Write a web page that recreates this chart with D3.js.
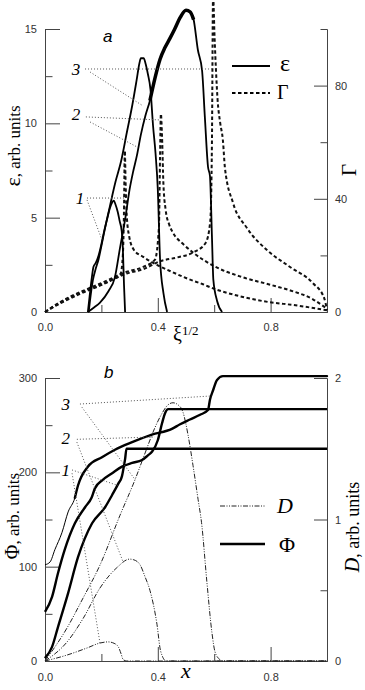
<!DOCTYPE html>
<html>
<head>
<meta charset="utf-8">
<script src="https://cdn.jsdelivr.net/npm/d3@7"></script>
<style>
  body { margin: 0; background: #fff; }
  svg { display: block; }
  .serif { font-family: "Liberation Serif", "Times New Roman", serif; }
</style>
</head>
<body>
<div id="chart"></div>
<script>
// ---------- data, panel a (eps and Gamma vs xi^1/2) ----------
var eps1 = [[0.152,0],[0.158,0.8],[0.165,1.7],[0.172,2.4],[0.18,2.6],[0.19,3.0],[0.2,3.6],[0.21,4.3],[0.22,4.9],
  [0.23,5.5],[0.238,5.8],[0.244,5.9],[0.25,5.7],[0.258,5.3],[0.265,4.8],[0.272,4.3],[0.276,3.4],[0.28,1.5],[0.284,0]];
var eps2 = [[0.155,0],[0.162,0.9],[0.17,1.7],[0.18,2.3],[0.19,2.8],[0.2,3.5],[0.215,4.6],[0.23,5.6],[0.25,6.9],
  [0.27,8.0],[0.29,9.5],[0.31,11.0],[0.325,12.3],[0.335,13.2],[0.34,13.45],[0.35,13.45],[0.356,13.2],[0.365,12.6],
  [0.374,11.8],[0.383,9.9],[0.392,8.4],[0.4,6.5],[0.408,2.8],[0.42,1.0],[0.433,0]];
var eps3 = [[0.152,0],[0.175,0.25],[0.195,0.5],[0.225,1.1],[0.248,1.85],[0.266,3.4],[0.284,4.9],[0.3,6.5],[0.312,7.4],
  [0.326,8.3],[0.34,9.4],[0.356,10.4],[0.372,11.2],[0.39,12.4],[0.408,13.4],[0.425,14.0],[0.443,14.5],[0.46,15.0],
  [0.479,15.6],[0.5,16.0],[0.515,15.9],[0.527,15.5],[0.542,13.9],[0.557,12.8],[0.567,10.3],[0.578,7.7],[0.585,7.2],
  [0.592,4.0],[0.597,1.7],[0.61,0.6],[0.628,0]];

var gam1 = [[0,0],[0.053,3.2],[0.124,6.7],[0.195,9.5],[0.24,11.5],[0.268,13.5],[0.276,20],[0.28,35],[0.283,57],
  [0.286,45],[0.29,34],[0.298,27],[0.315,22],[0.348,19.5],[0.4,16.5],[0.443,14.5],[0.5,12.0],[0.56,9.8],[0.6,8.2],
  [0.69,5.6],[0.77,3.9],[0.9,2.2],[1.0,0.6]];
var gam2 = [[0,0],[0.053,3.5],[0.124,7.0],[0.195,10.0],[0.29,14.2],[0.35,16.0],[0.39,18.5],[0.404,30],[0.408,55],
  [0.411,70],[0.415,62],[0.42,45],[0.428,36],[0.44,31],[0.454,28],[0.49,24],[0.525,21],[0.6,16.2],[0.7,12.3],
  [0.8,9.6],[0.87,7.6],[0.95,4.5],[0.995,1.5]];
var gam3 = [[0,0],[0.053,3.0],[0.124,6.4],[0.195,9.3],[0.29,13.6],[0.35,15.2],[0.41,18.0],[0.47,19.3],[0.525,21],
  [0.57,24.5],[0.586,32],[0.592,60],[0.596,112],[0.601,98],[0.606,86],[0.612,75],[0.621,67],[0.631,60.5],[0.638,51],
  [0.667,38.5],[0.716,29.7],[0.787,21.9],[0.869,15.9],[0.95,10.2],[0.99,4.9],[1.0,0.7]];

// ---------- data, panel b (Phi and D vs x) ----------
var phi1 = [[0,3],[0.025,15],[0.046,36],[0.082,72],[0.117,110],[0.167,146],[0.213,163],[0.238,176],[0.26,188],
  [0.273,196],[0.28,207],[0.284,214],[0.289,225],[1.0,225]];
var phi2 = [[0,52],[0.025,68],[0.046,93],[0.07,118],[0.106,146],[0.142,163],[0.165,173],[0.177,183],[0.205,192],
  [0.238,199],[0.273,206],[0.309,210],[0.344,213],[0.365,218],[0.38,222],[0.4,234],[0.415,252],[0.426,263],
  [0.437,267],[0.443,267],[1.0,267]];
var phi3 = [[0,102],[0.018,105],[0.035,118],[0.06,136],[0.082,158],[0.106,173],[0.117,186],[0.152,206],[0.202,216],
  [0.248,224],[0.309,232],[0.379,240],[0.45,246],[0.479,251],[0.514,256],[0.55,261],[0.578,266],[0.585,277],
  [0.596,287],[0.61,298],[0.631,302],[1.0,302]];

var dd1 = [[0,0],[0.078,0.042],[0.149,0.092],[0.195,0.127],[0.224,0.135],[0.245,0.125],[0.26,0.1],[0.27,0.05],
  [0.277,0.01],[0.29,0],[1.0,0]];
var dd2 = [[0,0],[0.078,0.134],[0.135,0.3],[0.195,0.516],[0.255,0.66],[0.3,0.72],[0.315,0.715],[0.337,0.68],
  [0.355,0.594],[0.372,0.5],[0.397,0.26],[0.41,0.07],[0.43,0],[1.0,0]];
var dd3 = [[0,0],[0.078,0.233],[0.135,0.445],[0.195,0.678],[0.266,1.03],[0.319,1.28],[0.355,1.47],[0.39,1.65],
  [0.415,1.75],[0.436,1.81],[0.454,1.825],[0.472,1.81],[0.489,1.76],[0.507,1.6],[0.525,1.38],[0.543,1.14],
  [0.555,0.98],[0.574,0.56],[0.592,0.2],[0.603,0.064],[0.62,0.01],[0.631,0],[1.0,0]];

// ticks
var xMajor = [0, 0.4, 0.8], xMinor = [0.2, 0.6, 1.0];
var epsMajor = [0, 5, 10, 15], epsMinor = [2.5, 7.5, 12.5];
var gamMajor = [0, 40, 80], gamMinor = [20, 60, 100];
var phiMajor = [0, 100, 200, 300], phiMinor = [50, 150, 250];
var dMajor = [0, 1, 2], dMinor = [0.5, 1.5];

// curve labels 1,2,3 with leader lines, in data units of the left axis
var labelsA = [
  {t: "3", at: [0.11, 12.9], lines: [[[0.142,12.88],[0.596,12.88]], [[0.16,12.72],[0.348,10.92]]]},
  {t: "2", at: [0.11, 10.5], lines: [[[0.145,10.34],[0.408,10.18]], [[0.16,10.07],[0.326,8.75]]]},
  {t: "1", at: [0.124, 6.04], lines: [[[0.149,6.04],[0.284,6.04]], [[0.149,5.94],[0.202,3.82]]]}
];
var labelsB = [
  {t: "3", at: [0.074, 272], lines: [[[0.124,272.4],[0.592,281]], [[0.131,269],[0.32,192]]]},
  {t: "2", at: [0.074, 236], lines: [[[0.113,235],[0.39,237.5]], [[0.113,232],[0.277,105]]]},
  {t: "1", at: [0.074, 202], lines: [[[0.096,202.5],[0.259,186]], [[0.096,199],[0.195,19]]]}
];

var svg = d3.select("#chart").append("svg")
  .attr("width", 365)
  .attr("height", 690);

var x = d3.scaleLinear().domain([0, 1]).range([45, 327]);
var yEps = d3.scaleLinear().domain([0, 15]).range([312, 29]);
var yGam = d3.scaleLinear().domain([0, 100]).range([312, 29]);
var yPhi = d3.scaleLinear().domain([0, 300]).range([661, 378]);
var yD = d3.scaleLinear().domain([0, 2]).range([661, 378]);

function fmtX(d) { return d3.format(".1f")(d); }

// two calls per axis: long labelled ticks and short blank ones
function drawAxis(fn, scale, tx, ty, major, minor, bigLen, fmt, pad) {
  var g1 = svg.append("g").attr("transform", "translate(" + tx + "," + ty + ")")
    .call(fn(scale).tickValues(minor).tickSize(-bigLen / 2).tickSizeOuter(0).tickFormat(""));
  var g2 = svg.append("g").attr("transform", "translate(" + tx + "," + ty + ")")
    .call(fn(scale).tickValues(major).tickSize(-bigLen).tickSizeOuter(0).tickFormat(fmt).tickPadding(pad));
  [g1, g2].forEach(function(g) {
    g.selectAll("path, line").attr("stroke", "#444").attr("stroke-width", 1);
    g.selectAll("text")
      .attr("font-family", "'Liberation Sans', Arial, sans-serif")
      .attr("font-size", 11)
      .attr("fill", "#333");
  });
}

drawAxis(d3.axisBottom, x, 0, 312, xMajor, xMinor, 14, fmtX, 11);
drawAxis(d3.axisLeft, yEps, 45, 0, epsMajor, epsMinor, 15, d3.format("d"), 8);
drawAxis(d3.axisRight, yGam, 327, 0, gamMajor, gamMinor, 13, d3.format("d"), 8);

drawAxis(d3.axisBottom, x, 0, 661, xMajor, xMinor, 14, fmtX, 12);
drawAxis(d3.axisLeft, yPhi, 45, 0, phiMajor, phiMinor, 15, d3.format("d"), 8);
drawAxis(d3.axisRight, yD, 327, 0, dMajor, dMinor, 13, d3.format("d"), 8);

function lineOf(ys) {
  return d3.line()
    .x(function(d) { return x(d[0]); })
    .y(function(d) { return ys(d[1]); })
    .curve(d3.curveMonotoneX);
}

// panel a
var gA = svg.append("g");
[gam1, gam2, gam3].forEach(function(s) {
  gA.append("path").datum(s).attr("d", lineOf(yGam))
    .attr("fill", "none").attr("stroke", "#111").attr("stroke-width", 2)
    .attr("stroke-dasharray", "3.5,2.5");
});
[eps1, eps2, eps3].forEach(function(s) {
  gA.append("path").datum(s).attr("d", lineOf(yEps))
    .attr("fill", "none").attr("stroke", "#000").attr("stroke-width", 1.8);
});
// the noisy top of curve 3 reads as a heavier stroke
gA.append("path")
  .datum(eps3.filter(function(d) { return d[0] >= 0.37 && d[0] <= 0.53; }))
  .attr("d", lineOf(yEps))
  .attr("fill", "none").attr("stroke", "#000").attr("stroke-width", 3.5);

// panel b
var gB = svg.append("g");
[dd1, dd2, dd3].forEach(function(s) {
  gB.append("path").datum(s).attr("d", lineOf(yD))
    .attr("fill", "none").attr("stroke", "#222").attr("stroke-width", 1)
    .attr("stroke-dasharray", "5,1.5,1,1.5,1,1.5");
});
[phi1, phi2].forEach(function(s) {
  gB.append("path").datum(s).attr("d", lineOf(yPhi))
    .attr("fill", "none").attr("stroke", "#000").attr("stroke-width", 2.4);
});
// curve 3 starts as a thin line and turns heavy
gB.append("path").datum(phi3.filter(function(d) { return d[0] <= 0.152; }))
  .attr("d", lineOf(yPhi)).attr("fill", "none").attr("stroke", "#000").attr("stroke-width", 1);
gB.append("path").datum(phi3.filter(function(d) { return d[0] >= 0.106; }))
  .attr("d", lineOf(yPhi)).attr("fill", "none").attr("stroke", "#000").attr("stroke-width", 2.4)
  .attr("stroke-linecap", "round");

// leader lines + numbers
function drawLabels(list, ys) {
  list.forEach(function(l) {
    l.lines.forEach(function(seg) {
      svg.append("line")
        .attr("x1", x(seg[0][0])).attr("y1", ys(seg[0][1]))
        .attr("x2", x(seg[1][0])).attr("y2", ys(seg[1][1]))
        .attr("stroke", "#555").attr("stroke-width", 1).attr("stroke-dasharray", "1,2");
    });
    svg.append("text").attr("class", "serif")
      .attr("x", x(l.at[0])).attr("y", ys(l.at[1])).attr("dy", "0.35em")
      .attr("text-anchor", "middle").attr("font-style", "italic").attr("font-size", 17)
      .text(l.t);
  });
}
drawLabels(labelsA, yEps);
drawLabels(labelsB, yPhi);

// legends
svg.append("line").attr("x1", 232).attr("x2", 270).attr("y1", 66).attr("y2", 66)
  .attr("stroke", "#000").attr("stroke-width", 2);
svg.append("text").attr("class", "serif").attr("x", 280).attr("y", 71).attr("font-size", 24).text("ε");
svg.append("line").attr("x1", 232).attr("x2", 270).attr("y1", 93).attr("y2", 93)
  .attr("stroke", "#000").attr("stroke-width", 2).attr("stroke-dasharray", "3.5,2.5");
svg.append("text").attr("class", "serif").attr("x", 277).attr("y", 99).attr("font-size", 20).text("Γ");

svg.append("line").attr("x1", 220).attr("x2", 265).attr("y1", 506).attr("y2", 506)
  .attr("stroke", "#222").attr("stroke-width", 1).attr("stroke-dasharray", "5,1.5,1,1.5,1,1.5");
svg.append("text").attr("class", "serif").attr("x", 277).attr("y", 513)
  .attr("font-size", 22).attr("font-style", "italic").text("D");
svg.append("line").attr("x1", 220).attr("x2", 265).attr("y1", 544).attr("y2", 544)
  .attr("stroke", "#000").attr("stroke-width", 2.4);
svg.append("text").attr("class", "serif").attr("x", 279).attr("y", 552).attr("font-size", 22).text("Φ");

// panel letters
svg.append("text").attr("x", 103).attr("y", 42)
  .attr("font-family", "'Liberation Sans', Arial, sans-serif").attr("font-style", "italic")
  .attr("font-size", 17).text("a");
svg.append("text").attr("x", 104).attr("y", 378)
  .attr("font-family", "'Liberation Sans', Arial, sans-serif").attr("font-style", "italic")
  .attr("font-size", 17).text("b");

// axis titles
var xt = svg.append("text").attr("class", "serif").attr("x", 173).attr("y", 341);
xt.append("tspan").style("font-size", "20px").text("ξ");
xt.append("tspan").style("font-size", "13px").attr("dy", -6).text("1/2");

svg.append("text").attr("class", "serif").attr("x", 181).attr("y", 678)
  .style("font-size", "22px").attr("font-style", "italic").text("x");

function vTitle(tx, ty, parts) {
  var t = svg.append("text").attr("class", "serif")
    .attr("transform", "translate(" + tx + "," + ty + ") rotate(-90)")
    .attr("text-anchor", "middle");
  parts.forEach(function(p) {
    t.append("tspan").style("font-size", p[1] + "px").style("font-style", p[2] || "normal").text(p[0]);
  });
}
vTitle(20, 146, [["ε", 22], [", arb. units", 17]]);
vTitle(19, 516, [["Φ", 20], [", arb. units", 17]]);
vTitle(359, 527, [["D", 20, "italic"], [", arb. units", 18]]);
vTitle(356, 170, [["Γ", 21]]);
</script>
</body>
</html>
